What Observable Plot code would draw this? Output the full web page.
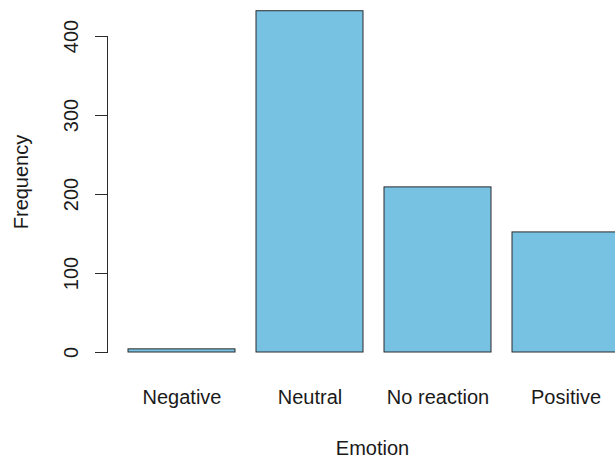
<!DOCTYPE html>
<html>
<head>
<meta charset="utf-8">
<script src="https://cdn.jsdelivr.net/npm/d3@7"></script>
<script src="https://cdn.jsdelivr.net/npm/@observablehq/plot@0.6"></script>
<style>
  html, body { margin: 0; padding: 0; background: white; overflow: hidden; }
  #chart svg { overflow: hidden; }
</style>
</head>
<body>
<div id="chart"></div>
<script>
const categories = ["Negative", "Neutral", "No reaction", "Positive"];
const frequencies = [4, 432, 209, 152];
const yTicks = [0, 100, 200, 300, 400];
const xTitle = "Emotion";
const yTitle = "Frequency";

const data = categories.map((c, i) => ({emotion: c, frequency: frequencies[i]}));

const chart = Plot.plot({
  width: 615,
  height: 460,
  marginLeft: 107,
  marginRight: 0,
  marginTop: 36,
  marginBottom: 108,
  style: {
    fontFamily: "'Liberation Sans', Arial, Helvetica, sans-serif",
    fontSize: "20px",
    background: "white",
    color: "#1a1a1a",
    overflow: "hidden"
  },
  x: {domain: categories, range: [127, 619], paddingInner: 1 / 6, paddingOuter: 0, align: 0.5, label: null},
  y: {domain: [0, 400], range: [352, 36], label: null},
  marks: [
    Plot.barY(data, {x: "emotion", y: "frequency", fill: "#77c1e3", stroke: "#2b2b2b", strokeWidth: 1}),
    Plot.frame({anchor: "left", stroke: "#2b2b2b"}),
    Plot.axisY(yTicks, {tickSize: 12, tickPadding: 18, tickRotate: -90, fontSize: 20, label: null, stroke: "#2b2b2b"}),
    Plot.axisX({tickSize: 0, tickPadding: 37, fontSize: 20, label: null}),
    Plot.text([xTitle], {frameAnchor: "bottom", dx: 11, dy: 102, lineAnchor: "bottom", textAnchor: "middle", fontSize: 20}),
    Plot.text([yTitle], {frameAnchor: "left", dx: -80, dy: -12.5, rotate: -90, lineAnchor: "bottom", textAnchor: "middle", fontSize: 20})
  ]
});

document.getElementById("chart").appendChild(chart);
</script>
</body>
</html>
